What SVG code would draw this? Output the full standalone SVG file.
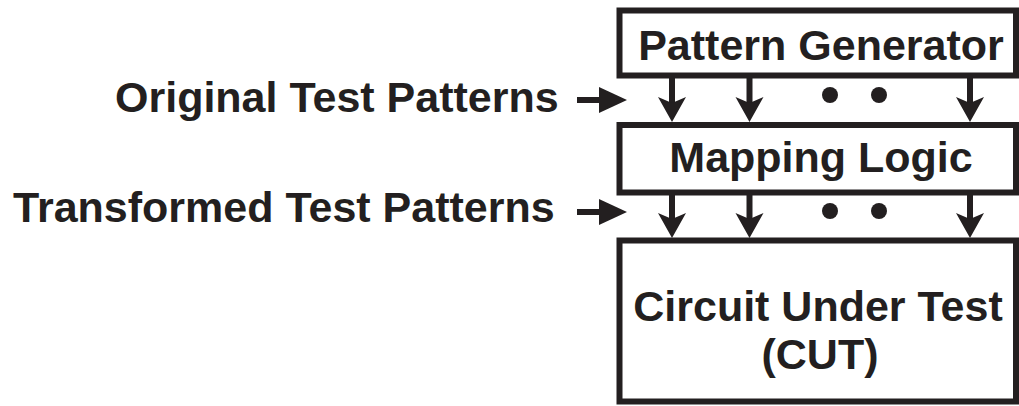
<svg xmlns="http://www.w3.org/2000/svg" xmlns:xlink="http://www.w3.org/1999/xlink" width="1019" height="406" viewBox="0 0 1019 406">
<style>
.box{fill:#fff;stroke:#231f20;stroke-width:6}
.t{font-family:"Liberation Sans",Arial,Helvetica,sans-serif;font-weight:bold;font-size:43px;fill:#231f20}
.m{text-anchor:middle}
.sh{stroke:#231f20;stroke-width:6;fill:none}
.hd{fill:#231f20}
</style>
<defs>
<path id="dh" d="M0,0 L-14,-25 L0,-19 L14,-25 Z"/>
<path id="rh" d="M0,0 L-28,-13 L-28,13 Z"/>
</defs>
<g id="pattern-generator">
<rect class="box" x="619.5" y="10.5" width="396.5" height="65"/>
<text class="t m" x="821" y="60">Pattern Generator</text>
</g>
<g id="mapping-logic">
<rect class="box" x="619.5" y="125" width="396.5" height="67.5"/>
<text class="t m" x="821" y="172">Mapping Logic</text>
</g>
<g id="cut">
<rect class="box" x="619.5" y="240.5" width="396.5" height="161"/>
<text class="t m" x="818" y="321">Circuit Under Test</text>
<text class="t m" x="820" y="369">(CUT)</text>
</g>
<g id="label-original">
<text class="t" x="115" y="112">Original Test Patterns</text>
</g>
<g id="label-transformed">
<text class="t" x="13" y="222">Transformed Test Patterns</text>
</g>
<g id="connectors">
<line class="sh" x1="577" y1="100" x2="602" y2="100"/>
<use class="hd" xlink:href="#rh" href="#rh" transform="translate(627,100)"/>
<line class="sh" x1="577" y1="212" x2="602" y2="212"/>
<use class="hd" xlink:href="#rh" href="#rh" transform="translate(627,212)"/>
<line class="sh" x1="672" y1="78" x2="672" y2="108"/>
<line class="sh" x1="749.5" y1="78" x2="749.5" y2="108"/>
<line class="sh" x1="970" y1="78" x2="970" y2="108"/>
<use class="hd" xlink:href="#dh" href="#dh" transform="translate(672,122)"/>
<use class="hd" xlink:href="#dh" href="#dh" transform="translate(749.5,122)"/>
<use class="hd" xlink:href="#dh" href="#dh" transform="translate(970,122)"/>
<circle class="hd" cx="830" cy="95" r="8"/>
<circle class="hd" cx="879" cy="95" r="8"/>
<line class="sh" x1="672" y1="195" x2="672" y2="224"/>
<line class="sh" x1="749.5" y1="195" x2="749.5" y2="224"/>
<line class="sh" x1="970" y1="195" x2="970" y2="224"/>
<use class="hd" xlink:href="#dh" href="#dh" transform="translate(672,238)"/>
<use class="hd" xlink:href="#dh" href="#dh" transform="translate(749.5,238)"/>
<use class="hd" xlink:href="#dh" href="#dh" transform="translate(970,238)"/>
<circle class="hd" cx="830" cy="211" r="8"/>
<circle class="hd" cx="879" cy="211" r="8"/>
</g>
</svg>
